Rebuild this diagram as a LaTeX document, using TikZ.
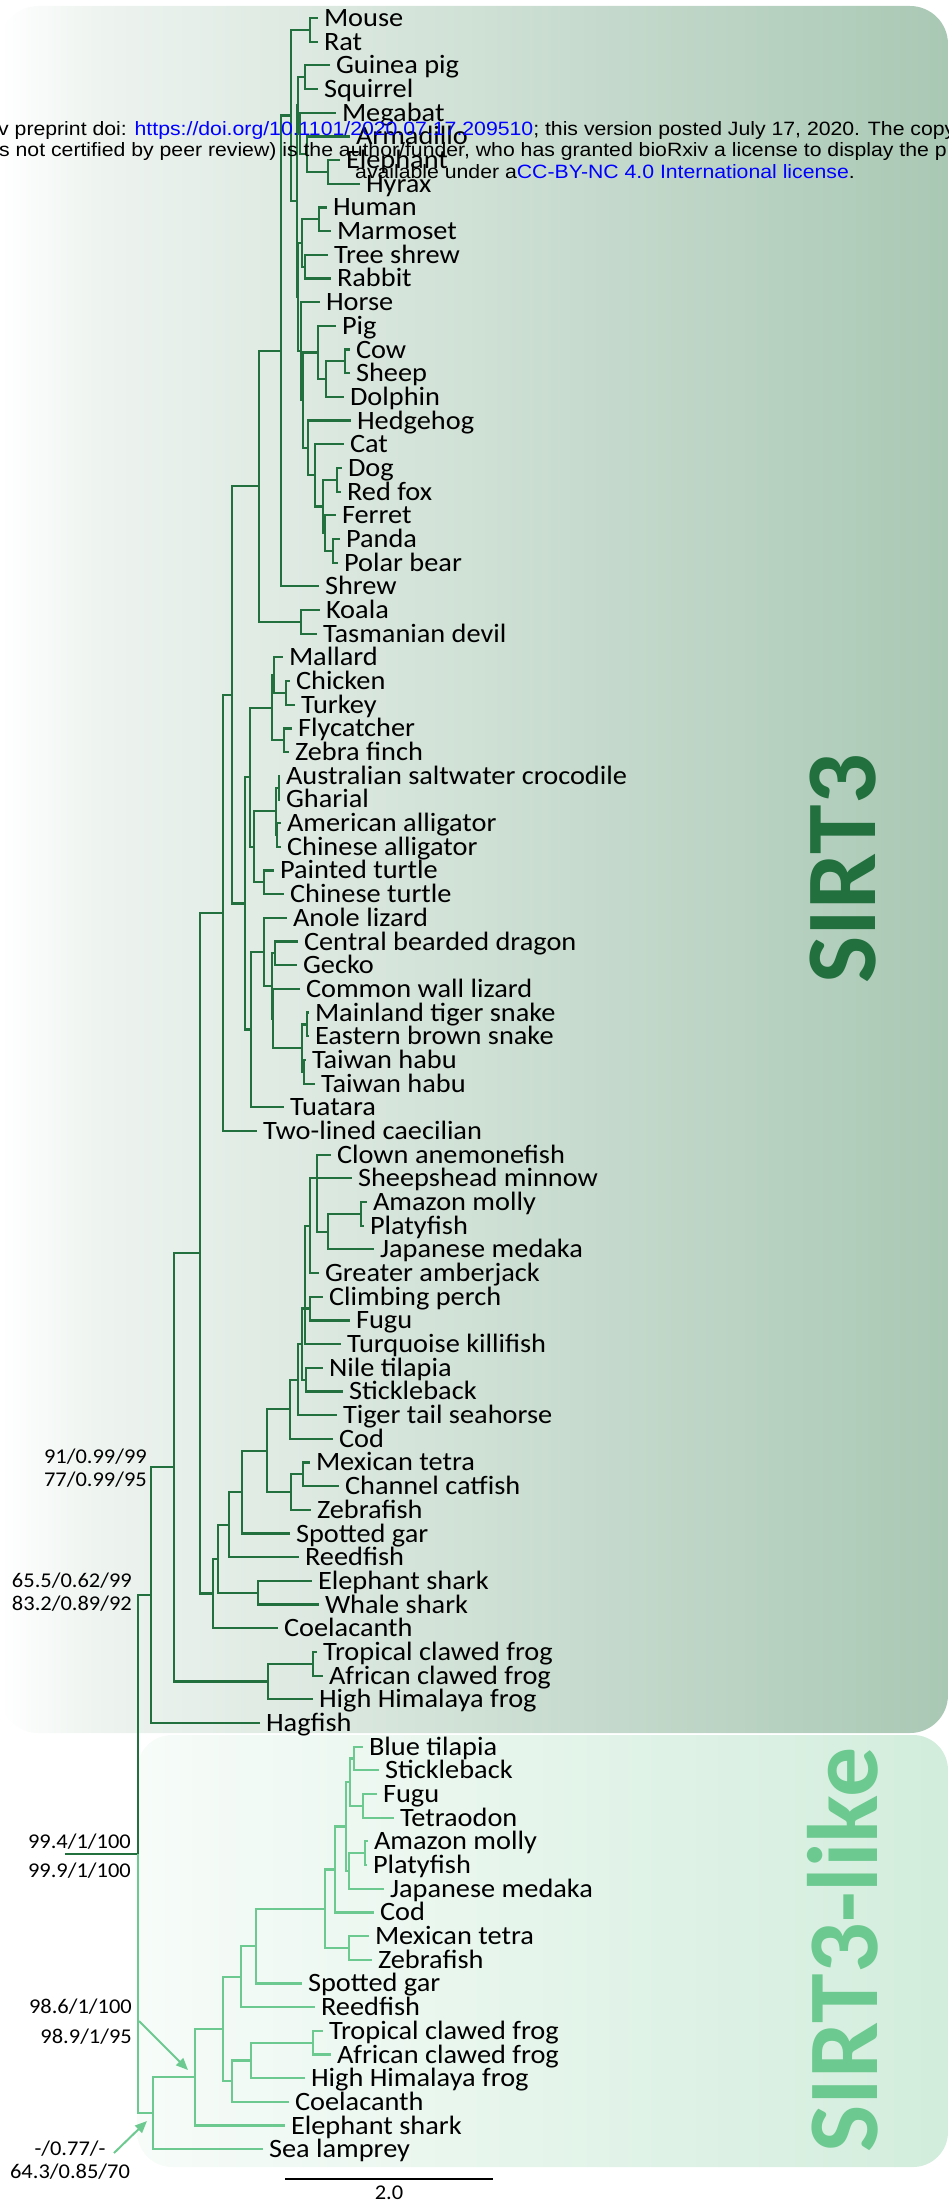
\documentclass[tikz,border=0pt]{standalone}
\usepackage{fontspec}
\setmainfont{Carlito}[FakeStretch=1.07]
\newfontfamily\wmfont{Liberation Sans}[FakeStretch=1.1]
\newfontfamily\cladefont{Carlito}
\usetikzlibrary{arrows.meta}
\definecolor{darkbr}{RGB}{33,112,62}
\definecolor{lightbr}{RGB}{108,201,143}
\definecolor{wmblue}{RGB}{0,0,255}
\definecolor{bgAa}{RGB}{238,244,240}
\definecolor{bgAb}{RGB}{169,200,180}
\definecolor{bgBa}{RGB}{247,252,249}
\definecolor{bgBb}{RGB}{210,237,220}
\pgfdeclarehorizontalshading{sirtbg}{100bp}{color(0bp)=(white); color(25bp)=(white); color(30bp)=(bgAa); color(75bp)=(bgAb); color(100bp)=(bgAb)}
\pgfdeclarehorizontalshading{likebg}{100bp}{color(0bp)=(bgBa); color(25bp)=(bgBa); color(75bp)=(bgBb); color(100bp)=(bgBb)}
\newcommand\inode[3]{\coordinate (#1) at (#2,#3);}
\newcommand\brD[2]{\draw[brd] (#1) |- (#2);}
\newcommand\brL[2]{\draw[brl] (#1) |- (#2);}
\begin{document}
\begin{tikzpicture}[x=1pt,y=-1pt,
  brd/.style={draw=darkbr,line width=2.2pt},
  brl/.style={draw=lightbr,line width=2.2pt},
  leaf/.style={anchor=west,inner xsep=6pt,inner ysep=0pt,outer sep=0pt,text height=21pt,text depth=4pt,font=\fontsize{26.5}{26.5}\selectfont},
  supval/.style={anchor=base east,inner sep=0pt,font=\fontsize{21}{21}\selectfont},
  clade/.style={rotate=90,anchor=base,inner sep=0pt,font=\cladefont\bfseries\fontsize{100}{100}\selectfont},
  wm/.style={anchor=base west,inner sep=0pt,font=\wmfont\fontsize{19.3}{19.3}\selectfont},
  pointer/.style={draw=lightbr,line width=2pt,-{Triangle[length=12pt,width=10pt]}}
]
\useasboundingbox (0,0) rectangle (948,2200);
% backgrounds
\shade[shading=sirtbg, rounded corners=38pt] (0,6) rectangle (948,1733);
\shade[shading=likebg, rounded corners=35pt] (137,1735) rectangle (948,2167);

% ---------- leaves SIRT3 ----------
\node[leaf] (n1) at (318,18.00) {Mouse};
\node[leaf] (n2) at (318,41.68) {Rat};
\node[leaf] (n3) at (330,65.36) {Guinea pig};
\node[leaf] (n4) at (318,89.04) {Squirrel};
\node[leaf] (n5) at (336,112.72) {Megabat};
\node[leaf] (n6) at (350,136.40) {Armadillo};
\node[leaf] (n7) at (340,160.08) {Elephant};
\node[leaf] (n8) at (360,183.76) {Hyrax};
\node[leaf] (n9) at (327,207.44) {Human};
\node[leaf] (n10) at (331,231.12) {Marmoset};
\node[leaf] (n11) at (328,254.80) {Tree shrew};
\node[leaf] (n12) at (331,278.48) {Rabbit};
\node[leaf] (n13) at (320,302.16) {Horse};
\node[leaf] (n14) at (336,325.84) {Pig};
\node[leaf] (n15) at (350,349.52) {Cow};
\node[leaf] (n16) at (350,373.20) {Sheep};
\node[leaf] (n17) at (344,396.88) {Dolphin};
\node[leaf] (n18) at (351,420.56) {Hedgehog};
\node[leaf] (n19) at (344,444.24) {Cat};
\node[leaf] (n20) at (342,467.92) {Dog};
\node[leaf] (n21) at (341,491.60) {Red fox};
\node[leaf] (n22) at (336,515.28) {Ferret};
\node[leaf] (n23) at (340,538.96) {Panda};
\node[leaf] (n24) at (338,562.64) {Polar bear};
\node[leaf] (n25) at (319,586.32) {Shrew};
\node[leaf] (n26) at (320,610.00) {Koala};
\node[leaf] (n27) at (317,633.68) {Tasmanian devil};
\node[leaf] (n28) at (283,657.36) {Mallard};
\node[leaf] (n29) at (290,681.04) {Chicken};
\node[leaf] (n30) at (295,704.72) {Turkey};
\node[leaf] (n31) at (292,728.40) {Flycatcher};
\node[leaf] (n32) at (289,752.08) {Zebra finch};
\node[leaf] (n33) at (280,775.76) {Australian saltwater crocodile};
\node[leaf] (n34) at (280,799.44) {Gharial};
\node[leaf] (n35) at (281,823.12) {American alligator};
\node[leaf] (n36) at (281,846.80) {Chinese alligator};
\node[leaf] (n37) at (274,870.48) {Painted turtle};
\node[leaf] (n38) at (284,894.16) {Chinese turtle};
\node[leaf] (n39) at (287,917.84) {Anole lizard};
\node[leaf] (n40) at (298,941.52) {Central bearded dragon};
\node[leaf] (n41) at (297,965.20) {Gecko};
\node[leaf] (n42) at (300,988.88) {Common wall lizard};
\node[leaf] (n43) at (309,1012.56) {Mainland tiger snake};
\node[leaf] (n44) at (309,1036.24) {Eastern brown snake};
\node[leaf] (n45) at (306,1059.92) {Taiwan habu};
\node[leaf] (n46) at (315,1083.60) {Taiwan habu};
\node[leaf] (n47) at (284,1107.28) {Tuatara};
\node[leaf] (n48) at (257,1130.96) {Two-lined caecilian};
\node[leaf] (n49) at (331,1154.64) {Clown anemonefish};
\node[leaf] (n50) at (352,1178.32) {Sheepshead minnow};
\node[leaf] (n51) at (367,1202.00) {Amazon molly};
\node[leaf] (n52) at (364,1225.68) {Platyfish};
\node[leaf] (n53) at (374,1249.36) {Japanese medaka};
\node[leaf] (n54) at (319,1273.04) {Greater amberjack};
\node[leaf] (n55) at (323,1296.72) {Climbing perch};
\node[leaf] (n56) at (350,1320.40) {Fugu};
\node[leaf] (n57) at (341,1344.08) {Turquoise killifish};
\node[leaf] (n58) at (323,1367.76) {Nile tilapia};
\node[leaf] (n59) at (343,1391.44) {Stickleback};
\node[leaf] (n60) at (337,1415.12) {Tiger tail seahorse};
\node[leaf] (n61) at (333,1438.80) {Cod};
\node[leaf] (n62) at (310,1462.48) {Mexican tetra};
\node[leaf] (n63) at (339,1486.16) {Channel catfish};
\node[leaf] (n64) at (311,1509.84) {Zebrafish};
\node[leaf] (n65) at (290,1533.52) {Spotted gar};
\node[leaf] (n66) at (299,1557.20) {Reedfish};
\node[leaf] (n67) at (312,1580.88) {Elephant shark};
\node[leaf] (n68) at (319,1604.56) {Whale shark};
\node[leaf] (n69) at (278,1628.24) {Coelacanth};
\node[leaf] (n70) at (317,1651.92) {Tropical clawed frog};
\node[leaf] (n71) at (323,1675.60) {African clawed frog};
\node[leaf] (n72) at (313,1699.28) {High Himalaya frog};
\node[leaf] (n73) at (260,1722.96) {Hagfish};
% ---------- leaves SIRT3-like ----------
\node[leaf] (n74) at (363,1746.64) {Blue tilapia};
\node[leaf] (n75) at (379,1770.32) {Stickleback};
\node[leaf] (n76) at (377,1794.00) {Fugu};
\node[leaf] (n77) at (394,1817.68) {Tetraodon};
\node[leaf] (n78) at (368,1841.36) {Amazon molly};
\node[leaf] (n79) at (367,1865.04) {Platyfish};
\node[leaf] (n80) at (384,1888.72) {Japanese medaka};
\node[leaf] (n81) at (374,1912.40) {Cod};
\node[leaf] (n82) at (369,1936.08) {Mexican tetra};
\node[leaf] (n83) at (372,1959.76) {Zebrafish};
\node[leaf] (n84) at (302,1983.44) {Spotted gar};
\node[leaf] (n85) at (315,2007.12) {Reedfish};
\node[leaf] (n86) at (323,2030.80) {Tropical clawed frog};
\node[leaf] (n87) at (331,2054.48) {African clawed frog};
\node[leaf] (n88) at (305,2078.16) {High Himalaya frog};
\node[leaf] (n89) at (289,2101.84) {Coelacanth};
\node[leaf] (n90) at (285,2125.52) {Elephant shark};
\node[leaf] (n91) at (263,2149.20) {Sea lamprey};

% ---------- internal nodes: mammals ----------
\inode{MR}{310}{29.84}
\inode{GS}{305}{77.2}
\inode{EH}{328}{171.92}
\inode{AX}{307}{154.16}
\inode{MgAX}{300}{133.44}
\inode{RA}{298}{105.32}
\inode{HM}{319}{219.28}
\inode{TR}{305}{266.64}
\inode{EA}{302}{242.96}
\inode{CS}{345}{361.36}
\inode{CSD}{326}{379.12}
\inode{Cet}{318}{352.48}
\inode{DF}{337}{479.76}
\inode{PB}{333}{550.8}
\inode{FB}{325}{533.04}
\inode{Cani}{323}{506.4}
\inode{Carn}{315}{475.32}
\inode{HCarn}{308}{447.94}
\inode{LL}{303}{400.21}
\inode{LA}{301}{351.19}
\inode{PP}{298}{297.08}
\inode{RB}{297}{201.2}
\inode{RC}{291}{115.52}
\inode{EU}{281}{350.92}
\inode{KO}{301}{621.84}
\inode{MA}{259}{486.38}
% sauropsids
\inode{CTk}{286}{692.88}
\inode{Gall}{274}{675.12}
\inode{Pass}{284}{740.24}
\inode{Bird}{272}{707.68}
\inode{CG}{279}{787.6}
\inode{AA}{277}{834.96}
\inode{Croc}{276}{811.28}
\inode{Turt}{264}{882.32}
\inode{CT}{254}{846.8}
\inode{Arch}{250}{777.24}
\inode{CBDG}{275}{953.36}
\inode{MB}{307}{1024.4}
\inode{TH}{304}{1071.76}
\inode{Snk}{302}{1048.08}
\inode{SqB}{273}{1018.48}
\inode{SqA}{272}{985.92}
\inode{Sq}{264}{951.88}
\inode{Lep}{251}{1029.58}
\inode{SA}{245}{903.41}
\inode{AM}{232}{694.9}
\inode{TT}{223}{912.93}
% fish
\inode{AP}{361}{1213.84}
\inode{Med}{328}{1231.6}
\inode{Fk}{317}{1178.32}
\inode{Fj}{310}{1225.68}
\inode{CF}{310}{1308.56}
\inode{Fnine}{305}{1308.56}
\inode{NS}{306}{1379.6}
\inode{Fh}{302}{1344.08}
\inode{Fg}{298}{1379.6}
\inode{Ff}{290}{1409.2}
\inode{MC}{303}{1474.32}
\inode{Ost}{291}{1492.08}
\inode{Fe}{267}{1450.64}
\inode{Fd}{242}{1492.08}
\inode{Fc}{229}{1524.64}
\inode{Shk}{258}{1592.72}
\inode{Fb}{218}{1558.68}
\inode{FI}{213}{1593.46}
\inode{VV}{200}{1253.2}
\inode{TF}{313}{1663.76}
\inode{FR}{268}{1681.52}
\inode{GG}{174}{1467.36}
\inode{HH}{151}{1595.16}
\inode{RT}{138}{1854.18}
\inode{RS}{65}{1854.18}
% SIRT3-like
\inode{BS}{354}{1758.48}
\inode{FT}{363}{1805.84}
\inode{Lh}{350}{1782.16}
\inode{AQ}{365}{1853.2}
\inode{Li}{349}{1870.96}
\inode{Lg}{346}{1826.56}
\inode{Lf}{335}{1869.48}
\inode{MZ}{349}{1947.92}
\inode{Le}{325}{1908.7}
\inode{Ld}{256}{1946.07}
\inode{Lc}{241}{1976.6}
\inode{XF}{313}{2042.64}
\inode{Lk}{251}{2060.4}
\inode{Lj}{232}{2081.12}
\inode{Lb}{223}{2028.86}
\inode{La}{195}{2077.19}
\inode{SL}{153}{2113.2}

% ---------- edges SIRT3 ----------
\brD{RC}{MR} \brD{RC}{RB}
\brD{MR}{n1.west} \brD{MR}{n2.west}
\brD{RB}{RA} \brD{RB}{PP}
\brD{RA}{GS} \brD{RA}{MgAX}
\brD{GS}{n3.west} \brD{GS}{n4.west}
\brD{MgAX}{n5.west} \brD{MgAX}{AX}
\brD{AX}{n6.west} \brD{AX}{EH}
\brD{EH}{n7.west} \brD{EH}{n8.west}
\brD{PP}{EA} \brD{PP}{LA}
\brD{EA}{HM} \brD{EA}{TR}
\brD{HM}{n9.west} \brD{HM}{n10.west}
\brD{TR}{n11.west} \brD{TR}{n12.west}
\brD{LA}{n13.west} \brD{LA}{LL}
\brD{LL}{Cet} \brD{LL}{HCarn}
\brD{Cet}{n14.west} \brD{Cet}{CSD}
\brD{CSD}{CS} \brD{CSD}{n17.west}
\brD{CS}{n15.west} \brD{CS}{n16.west}
\brD{HCarn}{n18.west} \brD{HCarn}{Carn}
\brD{Carn}{n19.west} \brD{Carn}{Cani}
\brD{Cani}{DF} \brD{Cani}{FB}
\brD{DF}{n20.west} \brD{DF}{n21.west}
\brD{FB}{n22.west} \brD{FB}{PB}
\brD{PB}{n23.west} \brD{PB}{n24.west}
\brD{EU}{RC} \brD{EU}{n25.west}
\brD{MA}{EU} \brD{MA}{KO}
\brD{KO}{n26.west} \brD{KO}{n27.west}
\brD{AM}{MA} \brD{AM}{SA}
\brD{TT}{AM} \brD{TT}{n48.west}
\brD{VV}{TT} \brD{VV}{FI}
\brD{GG}{VV} \brD{GG}{FR}
\brD{HH}{GG} \brD{HH}{n73.west}
\brD{RT}{HH}
\draw[brd] (RS) -- (RT);
% sauropsids
\brD{SA}{Arch} \brD{SA}{Lep}
\brD{Arch}{Bird} \brD{Arch}{CT}
\brD{Bird}{Gall} \brD{Bird}{Pass}
\brD{Gall}{n28.west} \brD{Gall}{CTk}
\brD{CTk}{n29.west} \brD{CTk}{n30.west}
\brD{Pass}{n31.west} \brD{Pass}{n32.west}
\brD{CT}{Croc} \brD{CT}{Turt}
\brD{Croc}{CG} \brD{Croc}{AA}
\brD{CG}{n33.west} \brD{CG}{n34.west}
\brD{AA}{n35.west} \brD{AA}{n36.west}
\brD{Turt}{n37.west} \brD{Turt}{n38.west}
\brD{Lep}{Sq} \brD{Lep}{n47.west}
\brD{Sq}{n39.west} \brD{Sq}{SqA}
\brD{SqA}{CBDG} \brD{SqA}{SqB}
\brD{CBDG}{n40.west} \brD{CBDG}{n41.west}
\brD{SqB}{n42.west} \brD{SqB}{Snk}
\brD{Snk}{MB} \brD{Snk}{TH}
\brD{MB}{n43.west} \brD{MB}{n44.west}
\brD{TH}{n45.west} \brD{TH}{n46.west}
% fish
\brD{FI}{Fb} \brD{FI}{n69.west}
\brD{Fb}{Fc} \brD{Fb}{Shk}
\brD{Shk}{n67.west} \brD{Shk}{n68.west}
\brD{Fc}{Fd} \brD{Fc}{n66.west}
\brD{Fd}{Fe} \brD{Fd}{n65.west}
\brD{Fe}{Ff} \brD{Fe}{Ost}
\brD{Ost}{MC} \brD{Ost}{n64.west}
\brD{MC}{n62.west} \brD{MC}{n63.west}
\brD{Ff}{Fg} \brD{Ff}{n61.west}
\brD{Fg}{Fh} \brD{Fg}{n60.west}
\brD{Fh}{Fnine} \brD{Fh}{NS}
\brD{NS}{n58.west} \brD{NS}{n59.west}
\brD{Fnine}{Fj} \brD{Fnine}{CF} \brD{Fnine}{n57.west}
\brD{CF}{n55.west} \brD{CF}{n56.west}
\brD{Fj}{Fk} \brD{Fj}{n54.west}
\brD{Fk}{n49.west} \brD{Fk}{n50.west} \brD{Fk}{Med}
\brD{Med}{AP} \brD{Med}{n53.west}
\brD{AP}{n51.west} \brD{AP}{n52.west}
\brD{FR}{TF} \brD{FR}{n72.west}
\brD{TF}{n70.west} \brD{TF}{n71.west}
% ---------- edges SIRT3-like ----------
\brL{RT}{SL}
\brL{SL}{La} \brL{SL}{n91.west}
\brL{La}{Lb} \brL{La}{n90.west}
\brL{Lb}{Lc} \brL{Lb}{Lj}
\brL{Lj}{Lk} \brL{Lj}{n89.west}
\brL{Lk}{XF} \brL{Lk}{n88.west}
\brL{XF}{n86.west} \brL{XF}{n87.west}
\brL{Lc}{Ld} \brL{Lc}{n85.west}
\brL{Ld}{Le} \brL{Ld}{n84.west}
\brL{Le}{Lf} \brL{Le}{MZ}
\brL{MZ}{n82.west} \brL{MZ}{n83.west}
\brL{Lf}{Lg} \brL{Lf}{n81.west}
\brL{Lg}{Lh} \brL{Lg}{Li}
\brL{Li}{AQ} \brL{Li}{n80.west}
\brL{AQ}{n78.west} \brL{AQ}{n79.west}
\brL{Lh}{BS} \brL{Lh}{FT}
\brL{BS}{n74.west} \brL{BS}{n75.west}
\brL{FT}{n76.west} \brL{FT}{n77.west}

% ---------- support values ----------
\node[supval] (s1a) at (147,1463) {91/0.99/99};
\node[supval] (s1b) at (147,1486) {77/0.99/95};
\node[supval] (s2a) at (132,1587) {65.5/0.62/99};
\node[supval] (s2b) at (132,1610) {83.2/0.89/92};
\node[supval] (s3a) at (131,1848) {99.4/1/100};
\node[supval] (s3b) at (131,1877) {99.9/1/100};
\node[supval] (s4a) at (132,2013) {98.6/1/100};
\node[supval] (s4b) at (132,2043) {98.9/1/95};
\node[supval,anchor=base] (s5a) at (70,2155) {-/0.77/-};
\node[supval,anchor=base] (s5b) at (70,2178) {64.3/0.85/70};
\coordinate (a1s) at (139,2021); \coordinate (a1e) at (188,2070);
\draw[pointer] (a1s) -- (a1e);
\coordinate (a2s) at (114,2153); \coordinate (a2e) at (147,2121);
\draw[pointer] (a2s) -- (a2e);

% ---------- clade labels ----------
\node[clade,text=darkbr] (c1) at (875,869) {SIRT3};
\node[clade,text=lightbr] (c2) at (877,1950) {SIRT3-like};

% ---------- scale bar ----------
\coordinate (sb1) at (285,2179); \coordinate (sb2) at (493,2179);
\draw[line width=2.5pt] (sb1) -- (sb2);
\node[anchor=north,inner sep=0pt,font=\fontsize{21}{21}\selectfont] (sbl) at (389,2186) {2.0};

% ---------- watermark ----------
\node[wm] (w1) at (-2,135) {v preprint doi: \textcolor{wmblue}{https://doi.org/10.1101/2020.07.17.209510}; this version posted July 17, 2020. The copy};
\node[wm] (w2) at (-1,156) {s not certified by peer review) is the author/funder, who has granted bioRxiv a license to display the p};
\node[wm] (w3) at (355,178) {available under a\textcolor{wmblue}{CC-BY-NC 4.0 International license}.};
\end{tikzpicture}
\end{document}
